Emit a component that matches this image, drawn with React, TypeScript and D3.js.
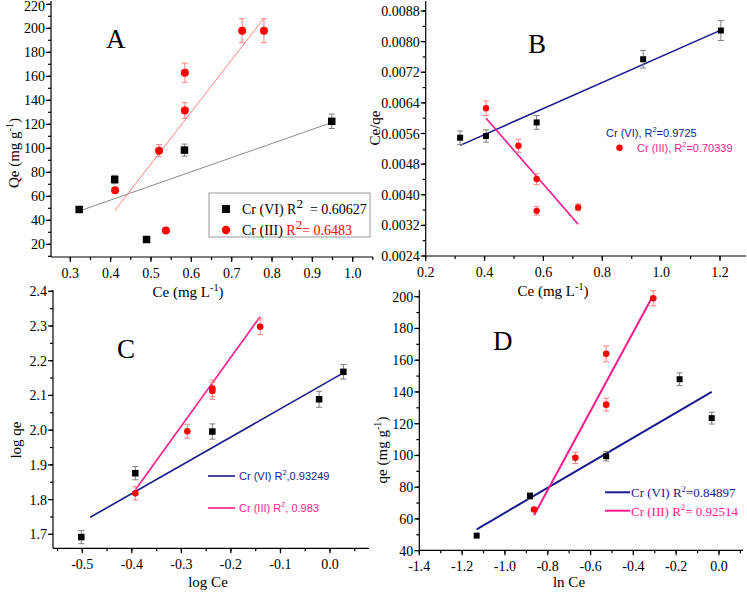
import { useEffect, useRef } from 'react';
import * as d3 from 'd3';

const W = 747;
const H = 592;

const NAVY = '#1a1a8c';
const PINK = '#ff1a8c';
const RED = '#ff0000';
const SERIF = '"Liberation Serif", "Times New Roman", serif';
const SANS = '"Liberation Sans", Arial, sans-serif';

// A: Qe vs Ce
const aCeVI = [0.322, 0.41, 0.489, 0.583, 0.948];
const aQeVI = [49, 74, 24, 98.5, 122.5];
const aErrVI = [0, 3.5, 0, 5, 6];
const aCeIII = [0.411, 0.52, 0.537, 0.584, 0.584, 0.726, 0.78];
const aQeIII = [65, 98, 31.5, 131.5, 163, 198, 198];
const aErrIII = [0, 5, 0, 6.5, 8, 10, 10];
const aFitVI: [number, number][] = [[0.32, 47.5], [0.95, 121.7]];
const aFitIII: [number, number][] = [[0.41, 48], [0.778, 207.5]];
const aXTicks = [0.3, 0.4, 0.5, 0.6, 0.7, 0.8, 0.9, 1.0];
const aYTicks = [20, 40, 60, 80, 100, 120, 140, 160, 180, 200, 220];

// B: Ce/qe vs Ce
const bCeVI = [0.317, 0.405, 0.577, 0.939, 1.203];
const bRatioVI = [0.00549, 0.005535, 0.00589, 0.00754, 0.00829];
const bErrVI = [0.000175, 0.00016, 0.00018, 0.00023, 0.00026];
const bCeIII = [0.405, 0.515, 0.577, 0.577, 0.718];
const bRatioIII = [0.00626, 0.00528, 0.00441, 0.00358, 0.00367];
const bErrIII = [0.00019, 0.00017, 0.00014, 0.00011, 0.00009];
const bFitVI: [number, number][] = [[0.317, 0.00529], [1.203, 0.0083]];
const bFitIII: [number, number][] = [[0.405, 0.006], [0.718, 0.00323]];
const bXTicks = [0.2, 0.4, 0.6, 0.8, 1.0, 1.2];
const bYTicks = [0.0024, 0.0032, 0.004, 0.0048, 0.0056, 0.0064, 0.0072, 0.008, 0.0088];

// C: log qe vs log Ce
const cLogCeVI = [-0.502, -0.393, -0.2375, -0.022, 0.027];
const cLogQeVI = [1.692, 1.876, 1.996, 2.089, 2.168];
const cErrVI = [0.019, 0.019, 0.022, 0.023, 0.021];
const cLogCeIII = [-0.393, -0.288, -0.2375, -0.2375, -0.141];
const cLogQeIII = [1.818, 1.997, 2.113, 2.12, 2.298];
const cErrIII = [0.019, 0.02, 0.024, 0.024, 0.023];
const cFitVI: [number, number][] = [[-0.484, 1.749], [0.027, 2.165]];
const cFitIII: [number, number][] = [[-0.392, 1.83], [-0.141, 2.327]];
const cXTicks = [-0.5, -0.4, -0.3, -0.2, -0.1, 0.0];
const cYTicks = [1.7, 1.8, 1.9, 2.0, 2.1, 2.2, 2.3, 2.4];

// D: qe vs ln Ce
const dLnCeVI = [-1.132, -0.883, -0.527, -0.184, -0.034];
const dQeVI = [49.5, 74.5, 99.5, 148, 123.5];
const dErrVI = [0, 2, 3, 4, 3.7];
const dLnCeIII = [-0.864, -0.671, -0.527, -0.527, -0.307];
const dQeIII = [66, 98.5, 132, 164, 199];
const dErrIII = [0, 3.5, 4, 5, 4.7];
const dFitVI: [number, number][] = [[-1.132, 53.5], [-0.034, 140]];
const dFitIII: [number, number][] = [[-0.864, 62.3], [-0.315, 199]];
const dXTicks = [-1.4, -1.2, -1.0, -0.8, -0.6, -0.4, -0.2, 0.0];
const dYTicks = [40, 60, 80, 100, 120, 140, 160, 180, 200];

type Sel = d3.Selection<any, unknown, null, undefined>;
type Sc = d3.ScaleLinear<number, number>;
type Part = { t: string; sup?: boolean; fill?: string; size?: number };

// scale from two readable anchors, then stretched to the axis extent in pixels
function anchored(v0: number, p0: number, v1: number, p1: number, a: number, b: number): Sc {
  const s = d3.scaleLinear().domain([v0, v1]).range([p0, p1]);
  return s.domain([s.invert(a), s.invert(b)]).range([a, b]);
}

function pts(xs: number[], ys: number[], es: number[]) {
  return xs.map((x, i) => ({ x, y: ys[i], e: es[i] }));
}

function rich(g: Sel, x: number, y: number, parts: Part[], size: number, family: string, fill: string, anchor = 'start', rotate = false) {
  const t = g.append('text')
    .attr('x', x).attr('y', y)
    .attr('font-size', size).attr('font-family', family)
    .attr('fill', fill).attr('text-anchor', anchor)
    .style('white-space', 'pre');
  if (rotate) t.attr('transform', `rotate(-90 ${x} ${y})`);
  let shift = 0;
  parts.forEach(p => {
    const s = t.append('tspan').text(p.t);
    if (p.fill) s.attr('fill', p.fill);
    if (p.sup) {
      const fs = p.size ?? size * 0.68;
      shift = size * 0.42;
      s.attr('font-size', fs).attr('dy', -shift);
    } else if (shift) {
      s.attr('dy', shift);
      shift = 0;
    }
  });
}

function axes(g: Sel, x: Sc, y: Sc, xt: number[], yt: number[], xStep: number, yStep: number, fx: (d: number) => string, fy: (d: number) => string) {
  const [x0, x1] = x.range();
  const [y0, y1] = y.range();
  const ax = g.append('g').attr('stroke', '#000').attr('stroke-width', 1.2);
  ax.append('line').attr('x1', x0).attr('x2', x1).attr('y1', y0).attr('y2', y0);
  ax.append('line').attr('x1', x0).attr('x2', x0).attr('y1', y0).attr('y2', y1);

  const [dx0, dx1] = x.domain();
  const xMinor = d3.range(Math.ceil(dx0 / xStep - 1e-6), Math.floor(dx1 / xStep + 1e-6) + 1).map(i => i * xStep);
  const [dy0, dy1] = y.domain();
  const yMinor = d3.range(Math.ceil(dy0 / yStep - 1e-6), Math.floor(dy1 / yStep + 1e-6) + 1).map(i => i * yStep);

  ax.selectAll('.xm').data(xMinor).enter().append('line')
    .attr('x1', d => x(d)).attr('x2', d => x(d)).attr('y1', y0).attr('y2', y0 + 3);
  ax.selectAll('.ym').data(yMinor).enter().append('line')
    .attr('y1', d => y(d)).attr('y2', d => y(d)).attr('x1', x0).attr('x2', x0 - 3);
  ax.selectAll('.xt').data(xt).enter().append('line')
    .attr('x1', d => x(d)).attr('x2', d => x(d)).attr('y1', y0).attr('y2', y0 + 5);
  ax.selectAll('.yt').data(yt).enter().append('line')
    .attr('y1', d => y(d)).attr('y2', d => y(d)).attr('x1', x0).attr('x2', x0 - 5);

  g.selectAll('.xl').data(xt).enter().append('text')
    .attr('x', d => x(d)).attr('y', y0 + 21)
    .attr('text-anchor', 'middle').attr('font-family', SERIF).attr('font-size', 14)
    .text(d => fx(d));
  g.selectAll('.yl').data(yt).enter().append('text')
    .attr('x', x0 - 6).attr('y', d => Math.max(y(d) + 5, 11))
    .attr('text-anchor', 'end').attr('font-family', SERIF).attr('font-size', 14)
    .text(d => fy(d));
}

function fit(g: Sel, x: Sc, y: Sc, line: [number, number][], color: string, w: number) {
  g.append('path')
    .attr('d', d3.line<[number, number]>().x(d => x(d[0])).y(d => y(d[1]))(line))
    .attr('fill', 'none').attr('stroke', color).attr('stroke-width', w);
}

function errs(g: Sel, x: Sc, y: Sc, data: { x: number; y: number; e: number }[], color: string) {
  const eg = g.append('g').attr('stroke', color).attr('stroke-width', 1);
  data.filter(d => d.e > 0).forEach(d => {
    const cx = x(d.x), top = y(d.y + d.e), bot = y(d.y - d.e);
    eg.append('line').attr('x1', cx).attr('x2', cx).attr('y1', top).attr('y2', bot);
    eg.append('line').attr('x1', cx - 3).attr('x2', cx + 3).attr('y1', top).attr('y2', top);
    eg.append('line').attr('x1', cx - 3).attr('x2', cx + 3).attr('y1', bot).attr('y2', bot);
  });
}

function squares(g: Sel, x: Sc, y: Sc, data: { x: number; y: number }[], s: number) {
  g.selectAll(null).data(data).enter().append('rect')
    .attr('x', d => x(d.x) - s / 2).attr('y', d => y(d.y) - s / 2)
    .attr('width', s).attr('height', s).attr('fill', '#000');
}

function dots(g: Sel, x: Sc, y: Sc, data: { x: number; y: number }[], r: number) {
  g.selectAll(null).data(data).enter().append('circle')
    .attr('cx', d => x(d.x)).attr('cy', d => y(d.y)).attr('r', r).attr('fill', RED);
}

function letter(g: Sel, x: number, y: number, t: string) {
  g.append('text').attr('x', x).attr('y', y).attr('font-family', SERIF).attr('font-size', 27).text(t);
}

const f1 = (d: number) => d.toFixed(1);
const f0 = (d: number) => d.toFixed(0);
const f4 = (d: number) => d.toFixed(4);

export default function App() {
  const svgRef = useRef<SVGSVGElement>(null);

  useEffect(() => {
    if (!svgRef.current) return;
    const svg = d3.select(svgRef.current);
    svg.selectAll('*').remove();
    svg.append('rect').attr('width', W).attr('height', H).attr('fill', '#fff');

    // ---- A
    {
      const g = svg.append('g');
      const x = anchored(0.3, 70.3, 1.0, 352.7, 51, 373);
      const y = anchored(20, 244.3, 220, 4.3, 257, 1);
      axes(g, x, y, aXTicks, aYTicks, 0.05, 10, f1, f0);
      fit(g, x, y, aFitVI, '#8c8c8c', 1);
      fit(g, x, y, aFitIII, '#ff8080', 1);
      const vi = pts(aCeVI, aQeVI, aErrVI);
      const iii = pts(aCeIII, aQeIII, aErrIII);
      errs(g, x, y, vi, '#808080');
      errs(g, x, y, iii, '#ff8080');
      squares(g, x, y, vi, 7.5);
      dots(g, x, y, iii, 4);
      letter(g, 106, 48, 'A');
      rich(g, 188, 297, [{ t: 'Ce (mg L' }, { t: '-1', sup: true }, { t: ')' }], 15, SERIF, '#000', 'middle');
      rich(g, 19, 153, [{ t: 'Qe (mg g' }, { t: '-1', sup: true }, { t: ')' }], 15, SERIF, '#000', 'middle', true);
      g.append('rect').attr('x', 209).attr('y', 193).attr('width', 161).attr('height', 44)
        .attr('fill', '#fff').attr('stroke', '#999').attr('stroke-width', 1);
      g.append('rect').attr('x', 222).attr('y', 205).attr('width', 8).attr('height', 8).attr('fill', '#000');
      g.append('circle').attr('cx', 226).attr('cy', 230).attr('r', 4.2).attr('fill', RED);
      rich(g, 242, 214, [{ t: 'Cr (VI) R' }, { t: '2', sup: true, size: 13 }, { t: '  = 0.60627' }], 14, SERIF, '#000');
      rich(g, 242, 235, [{ t: 'Cr (III) ' }, { t: 'R', fill: RED }, { t: '2', sup: true, size: 13, fill: RED }, { t: '= 0.6483', fill: RED }], 14, SERIF, '#000');
    }

    // ---- B
    {
      const g = svg.append('g');
      const x = anchored(0.2, 425.7, 1.2, 720, 425.7, 746);
      const y = anchored(0.0024, 256, 0.0088, 11, 256, 1);
      axes(g, x, y, bXTicks, bYTicks, 0.1, 0.0004, f1, f4);
      fit(g, x, y, bFitVI, NAVY, 1.6);
      fit(g, x, y, bFitIII, PINK, 1.6);
      const vi = pts(bCeVI, bRatioVI, bErrVI);
      const iii = pts(bCeIII, bRatioIII, bErrIII);
      errs(g, x, y, vi, '#808080');
      errs(g, x, y, iii, '#ff8080');
      squares(g, x, y, vi, 6);
      dots(g, x, y, iii, 3.2);
      letter(g, 528, 53, 'B');
      rich(g, 553, 296, [{ t: 'Ce (mg L' }, { t: '-1', sup: true }, { t: ')' }], 15, SERIF, '#000', 'middle');
      rich(g, 380, 128, [{ t: 'Ce/qe' }], 15, SERIF, '#000', 'middle', true);
      rich(g, 606, 137, [{ t: 'Cr (VI), R' }, { t: '2', sup: true }, { t: '=0.9725' }], 11, SANS, NAVY);
      g.append('circle').attr('cx', 619.5).attr('cy', 147.7).attr('r', 3.2).attr('fill', RED);
      rich(g, 637, 152, [{ t: 'Cr (III), R' }, { t: '2', sup: true }, { t: '=0.70339' }], 11, SANS, PINK);
    }

    // ---- C
    {
      const g = svg.append('g');
      const x = anchored(-0.5, 82.3, 0.0, 330, 53, 369);
      const y = anchored(1.7, 534.3, 2.3, 326, 548.3, 290);
      axes(g, x, y, cXTicks, cYTicks, 0.05, 0.05, f1, f1);
      fit(g, x, y, cFitVI, NAVY, 1.6);
      fit(g, x, y, cFitIII, PINK, 1.6);
      const vi = pts(cLogCeVI, cLogQeVI, cErrVI);
      const iii = pts(cLogCeIII, cLogQeIII, cErrIII);
      errs(g, x, y, vi, '#808080');
      errs(g, x, y, iii, '#ff8080');
      squares(g, x, y, vi, 6.5);
      dots(g, x, y, iii, 3.3);
      letter(g, 117, 358, 'C');
      rich(g, 208, 587, [{ t: 'log Ce' }], 15, SERIF, '#000', 'middle');
      rich(g, 21, 440, [{ t: 'log qe' }], 15, SERIF, '#000', 'middle', true);
      g.append('line').attr('x1', 208).attr('x2', 235).attr('y1', 476).attr('y2', 476).attr('stroke', NAVY).attr('stroke-width', 1.6);
      g.append('line').attr('x1', 208).attr('x2', 235).attr('y1', 508).attr('y2', 508).attr('stroke', PINK).attr('stroke-width', 1.6);
      rich(g, 239, 480, [{ t: 'Cr (VI) R' }, { t: '2', sup: true }, { t: ',0.93249' }], 11, SANS, NAVY);
      rich(g, 239, 512, [{ t: 'Cr (III) R' }, { t: '2', sup: true }, { t: ', 0.983' }], 11, SANS, PINK);
    }

    // ---- D
    {
      const g = svg.append('g');
      const x = anchored(-1.4, 419.3, 0.0, 719, 419.3, 743);
      const y = anchored(40, 550.7, 200, 296.7, 550.3, 290);
      axes(g, x, y, dXTicks, dYTicks, 0.1, 10, f1, f0);
      fit(g, x, y, dFitVI, NAVY, 2);
      fit(g, x, y, dFitIII, PINK, 2);
      const vi = pts(dLnCeVI, dQeVI, dErrVI);
      const iii = pts(dLnCeIII, dQeIII, dErrIII);
      errs(g, x, y, vi, '#808080');
      errs(g, x, y, iii, '#ff8080');
      squares(g, x, y, vi, 6);
      dots(g, x, y, iii, 3.3);
      letter(g, 493, 350, 'D');
      rich(g, 569, 587, [{ t: 'ln Ce' }], 15, SERIF, '#000', 'middle');
      rich(g, 387, 450, [{ t: 'qe (mg g' }, { t: '-1', sup: true }, { t: ')' }], 15, SERIF, '#000', 'middle', true);
      g.append('line').attr('x1', 605).attr('x2', 630).attr('y1', 492.3).attr('y2', 492.3).attr('stroke', NAVY).attr('stroke-width', 2);
      g.append('line').attr('x1', 605).attr('x2', 630).attr('y1', 510.7).attr('y2', 510.7).attr('stroke', PINK).attr('stroke-width', 2);
      rich(g, 631, 497, [{ t: 'Cr (VI) R' }, { t: '2', sup: true }, { t: '=0.84897' }], 13, SERIF, NAVY);
      rich(g, 631, 515.5, [{ t: 'Cr (III) R' }, { t: '2', sup: true }, { t: '= 0.92514' }], 13, SERIF, PINK);
    }
  }, []);

  return (
    <div style={{ position: 'absolute', left: 0, top: 0 }}>
      <svg ref={svgRef} width={W} height={H} style={{ display: 'block' }}></svg>
    </div>
  );
}
